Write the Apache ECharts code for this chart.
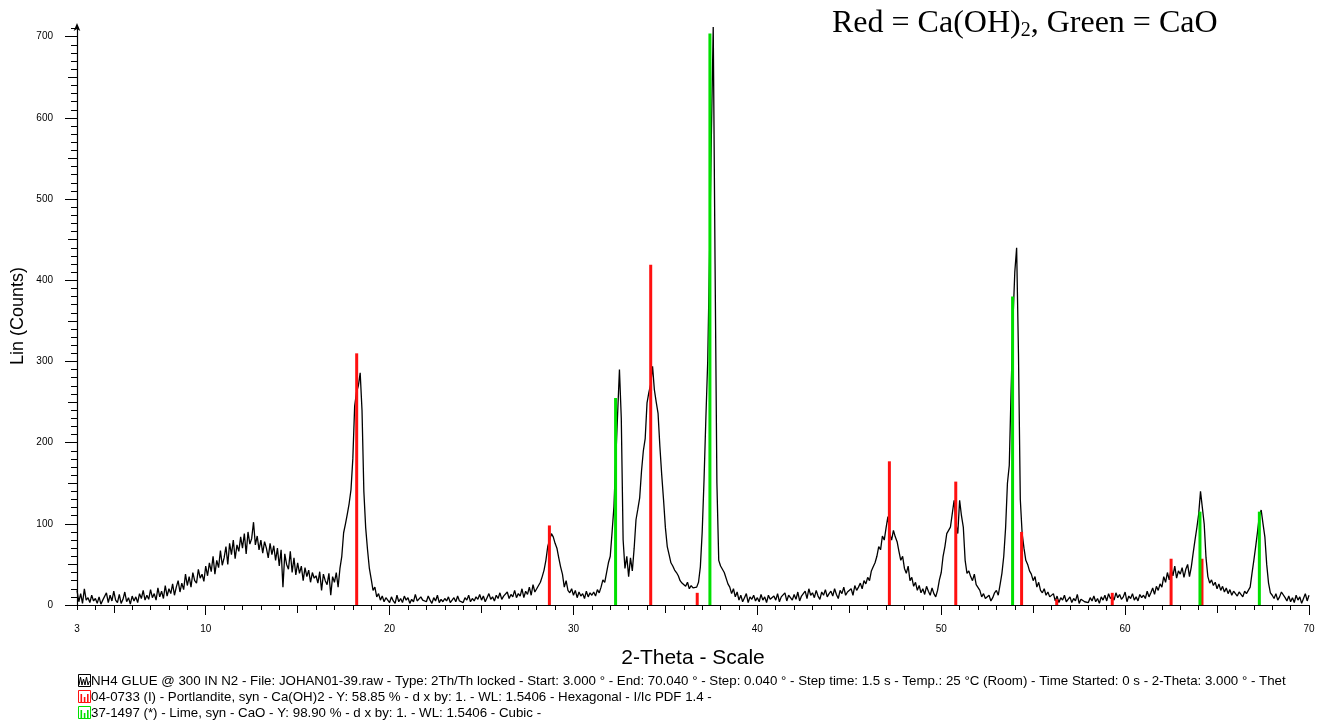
<!DOCTYPE html>
<html>
<head>
<meta charset="utf-8">
<title>XRD NH4 GLUE @ 300 IN N2</title>
<script src="https://cdn.jsdelivr.net/npm/echarts@6.0.0/dist/echarts.min.js"></script>
<style>
  html, body { margin: 0; padding: 0; background: #fff; }
  #chart { width: 1320px; height: 720px; }
</style>
</head>
<body>
<div id="chart"></div>
<script>
// scan: 2-theta from 3.0, one reading every 0.1 deg
var scanStart = 3.0;
var scanStep = 0.1;
var counts = [
  18, 4, 14, 2, 20, 6, 9, 3, 12, 5,          // 3
  8, 2, 10, 1, 6, 4, 15, 3, 12, 5,           // 4
  17, 6, 3, 13, 2, 7, 16, 4, 9, 1,           // 5
  11, 5, 10, 3, 14, 8, 18, 6, 12, 7,         // 6
  19, 9, 14, 6, 21, 10, 17, 8, 24, 11,       // 7
  20, 14, 26, 12, 22, 30, 16, 27, 19, 38,    // 8
  24, 35, 22, 40, 30, 27, 44, 33, 38, 29,    // 9
  48, 36, 52, 41, 60, 38, 55, 46, 67, 49,    // 10
  58, 72, 50, 76, 62, 80, 57, 74, 66, 84,    // 11
  70, 88, 63, 90, 75, 82, 102, 74, 85, 68,   // 12
  80, 64, 78, 70, 58, 76, 62, 73, 55, 70,    // 13
  48, 68, 22, 63, 50, 44, 66, 40, 58, 37,    // 14
  52, 39, 48, 30, 46, 35, 43, 28, 40, 33,    // 15
  36, 27, 41, 18, 38, 30, 25, 39, 12, 35,    // 16
  28, 40, 22, 45, 60, 89, 100, 112, 125, 142,  // 17
  180, 245, 262, 270, 286, 240, 140, 95, 68, 45, // 18
  32, 18, 22, 10, 14, 6, 11, 4, 9, 7,        // 19
  3, 10, 5, 2, 12, 4, 8, 3, 11, 6,           // 20
  9, 2, 7, 4, 13, 5, 3, 10, 6, 8,            // 21
  4, 11, 6, 2, 9, 5, 12, 3, 7, 4,            // 22
  8, 5, 10, 3, 6, 9, 4, 11, 5, 7,            // 23
  3, 9, 6, 12, 4, 8, 5, 10, 7, 13,           // 24
  6, 11, 4, 9, 14, 7, 10, 5, 12, 8,          // 25
  15, 7, 11, 9, 16, 8, 13, 10, 18, 9,        // 26
  14, 11, 20, 9, 17, 13, 22, 12, 25, 16,     // 27
  20, 24, 28, 35, 43, 55, 72, 80, 88, 84,    // 28
  76, 70, 58, 47, 38, 22, 30, 18, 15, 20,    // 29
  12, 18, 9, 16, 11, 14, 8, 17, 10, 15,      // 30
  12, 16, 11, 19, 15, 22, 31, 28, 40, 52,    // 31
  60, 90, 121, 180, 235, 290, 230, 80, 45, 60,   // 32
  35, 58, 42, 70, 105, 118, 132, 165, 190, 205,  // 33
  249, 262, 272, 294, 265, 250, 236, 195, 160, 129, // 34
  95, 72, 62, 52, 48, 43, 40, 36, 30, 27,    // 35
  25, 23, 28, 20, 24, 21, 19, 22, 28, 47,    // 36
  90, 154, 230, 300, 430, 580, 712, 420, 150, 55, // 37
  48, 50, 40, 38, 26, 22, 14, 20, 10, 16,    // 38
  6, 12, 4, 9, 14, 3, 10, 7, 12, 5,          // 39
  9, 4, 13, 6, 10, 3, 12, 7, 5, 11,          // 40
  6, 14, 4, 10, 8, 15, 5, 12, 9, 6,          // 41
  13, 7, 16, 5, 11, 9, 17, 8, 20, 12,        // 42
  15, 9, 18, 11, 7, 16, 12, 19, 10, 14,      // 43
  17, 11, 20, 13, 8, 18, 14, 22, 12, 16,     // 44
  15, 20, 12, 24, 18, 22, 27, 20, 30, 26,    // 45
  34, 30, 42, 47, 52, 60, 72, 68, 85, 80,    // 46
  95, 109, 88, 80, 92, 84, 78, 66, 55, 60,   // 47
  45, 39, 48, 30, 34, 23, 28, 18, 24, 15,    // 48
  20, 13, 23, 17, 12, 21, 14, 10, 18, 31,    // 49
  40, 60, 72, 88, 92, 96, 94, 129, 100, 88,  // 50
  129, 110, 96, 55, 39, 42, 35, 30, 38, 25,  // 51
  23, 18, 10, 14, 8, 6, 12, 5, 9, 15,        // 52
  18, 12, 25, 39, 60, 95, 150, 172, 265, 350,  // 53
  410, 440, 310, 130, 88, 70, 55, 50, 42, 38,  // 54
  30, 35, 22, 28, 18, 15, 20, 12, 16, 10,    // 55
  8, 14, 5, 11, 3, 9, 6, 12, 4, 7,           // 56
  10, 3, 8, 5, 13, 2, 7, 9, 4, 6,            // 57
  3, 9, 5, 11, 4, 8, 2, 10, 6, 12,           // 58
  5, 14, 8, 11, 6, 15, 9, 13, 7, 10,         // 59
  16, 4, 11, 8, 14, 6, 10, 5, 13, 9,         // 60
  12, 8, 17, 10, 15, 21, 13, 23, 18, 26,     // 61
  22, 35, 28, 40, 31, 45, 36, 48, 33, 42,    // 62
  38, 46, 34, 44, 50, 35, 47, 64, 80, 95,    // 63
  112, 140, 120, 100, 58, 35, 27, 31, 24, 28,  // 64
  20, 26, 18, 23, 16, 21, 14, 19, 12, 17,    // 65
  15, 11, 16, 13, 10, 17, 14, 12, 22, 39,    // 66
  55, 72, 90, 110, 117, 100, 84, 50, 27, 15, // 67
  12, 8, 14, 6, 10, 16, 18, 9, 5, 11,        // 68
  4, 9, 3, 12, 6, 10, 2, 8, 14, 5,           // 69
  12                                         // 70
];

// reference patterns (stick lines)
var portlanditePos = [18.21, 28.69, 34.2, 36.73, 47.18, 50.79, 54.37, 56.28, 59.3, 62.5, 64.18];
var portlanditeH   = [310, 98, 419, 15, 177, 152, 90, 7, 15, 57, 57];
var limePos = [32.29, 37.42, 53.88, 64.07, 67.3];
var limeH   = [255, 704, 380, 115, 115];

var xLabelValues = [3, 10, 20, 30, 40, 50, 60, 70];
var yLabelValues = [0, 100, 200, 300, 400, 500, 600, 700];

var legendLines = [
  'NH4 GLUE @ 300 IN N2 - File: JOHAN01-39.raw - Type: 2Th/Th locked - Start: 3.000 ° - End: 70.040 ° - Step: 0.040 ° - Step time: 1.5 s - Temp.: 25 °C (Room) - Time Started: 0 s - 2-Theta: 3.000 ° - Thet',
  '04-0733 (I) - Portlandite, syn - Ca(OH)2 - Y: 58.85 % - d x by: 1. - WL: 1.5406 - Hexagonal - I/Ic PDF 1.4 -',
  '37-1497 (*) - Lime, syn - CaO - Y: 98.90 % - d x by: 1. - WL: 1.5406 - Cubic -'
];

var scan = counts.map(function (c, i) {
  return [+(scanStart + i * scanStep).toFixed(2), c];
});
function sticks(pos, h) {
  return pos.map(function (p, i) { return [p, h[i]]; });
}

var xMid = [], xMajor = [], yMid = [], yMinor = [];
for (var v = 5; v < 70; v += 10) xMid.push(v);
for (var v = 10; v <= 70; v += 10) xMajor.push(v);
for (var v = 50; v < 700; v += 100) yMid.push(v);
for (var v = 0; v <= 710; v += 10) yMinor.push(v);

var font = 'Liberation Sans, Arial, sans-serif';
var YMAX = 712;

function stickItem(color) {
  return function (params, api) {
    var top = api.coord([api.value(0), api.value(1)]);
    var base = api.coord([api.value(0), 0]);
    return {
      type: 'rect',
      shape: { x: top[0] - 1.5, y: top[1], width: 3, height: base[1] - top[1] },
      style: { fill: color }
    };
  };
}

function xAx(ticks, len, extra) {
  var a = {
    type: 'value', min: 3, max: 70, position: 'bottom',
    axisLine: { show: false },
    axisTick: { show: true, customValues: ticks, length: len, lineStyle: { color: '#000', width: 1 } },
    axisLabel: { show: false },
    splitLine: { show: false }
  };
  return Object.assign(a, extra || {});
}
function yAx(ticks, len, extra) {
  var a = {
    type: 'value', min: 0, max: YMAX, position: 'left',
    axisLine: { show: false },
    axisTick: { show: true, customValues: ticks, length: len, lineStyle: { color: '#000', width: 1 } },
    axisLabel: { show: false },
    splitLine: { show: false }
  };
  return Object.assign(a, extra || {});
}

var chart = echarts.init(document.getElementById('chart'));
chart.setOption({
  animation: false,
  backgroundColor: '#fff',
  textStyle: { fontFamily: font },
  grid: { left: 77, right: 11, top: 27, bottom: 115, containLabel: false },
  xAxis: [
    {
      type: 'value', min: 3, max: 70, interval: 1, position: 'bottom',
      axisLine: { show: true, lineStyle: { color: '#000', width: 1.2 } },
      axisTick: { show: true, length: 5, lineStyle: { color: '#000', width: 1 } },
      axisLabel: { customValues: xLabelValues, color: '#000', fontSize: 10, margin: 19, fontFamily: font },
      splitLine: { show: false }
    },
    xAx(xMid, 8),
    xAx(xMajor, 10)
  ],
  yAxis: [
    yAx(yLabelValues, 12, {
      axisLine: { show: true, lineStyle: { color: '#000', width: 1.2 }, symbol: ['none', 'arrow'], symbolSize: [5, 8], symbolOffset: [0, 4] },
      axisLabel: { show: true, customValues: yLabelValues, color: '#000', fontSize: 10, margin: 24, fontFamily: font }
    }),
    yAx(yMid, 9),
    yAx(yMinor, 6)
  ],
  series: [
    {
      name: 'NH4 GLUE @ 300 IN N2', type: 'line', data: scan,
      xAxisIndex: 0, yAxisIndex: 0,
      showSymbol: false, symbol: 'none',
      lineStyle: { color: '#000', width: 1.3 },
      z: 2
    },
    {
      name: 'Portlandite', type: 'custom', data: sticks(portlanditePos, portlanditeH),
      renderItem: stickItem('#ff1010'), z: 3
    },
    {
      name: 'Lime', type: 'custom', data: sticks(limePos, limeH),
      renderItem: stickItem('#00e000'), z: 4
    }
  ],
  graphic: [
    {
      type: 'text', left: 832, top: 8,
      style: {
        text: '{a|Red = Ca(OH)}{s|2}{a|, Green = CaO}',
        rich: {
          a: { fontFamily: 'Liberation Serif, Times New Roman, serif', fontSize: 32, lineHeight: 34, fill: '#000' },
          s: { fontFamily: 'Liberation Serif, Times New Roman, serif', fontSize: 20, lineHeight: 15, verticalAlign: 'bottom', fill: '#000' }
        }
      }
    },
    {
      type: 'text', x: 18, y: 316, rotation: Math.PI / 2,
      style: { text: 'Lin (Counts)', fontSize: 18, fontFamily: font, fill: '#000', align: 'center', verticalAlign: 'middle' }
    },
    {
      type: 'text', x: 693, y: 658,
      style: { text: '2-Theta - Scale', fontSize: 21, fontFamily: font, fill: '#000', align: 'center', verticalAlign: 'middle' }
    },
    // legend glyphs
    { type: 'rect', shape: { x: 78.5, y: 674.5, width: 12, height: 12 }, style: { fill: 'none', stroke: '#000', lineWidth: 1 } },
    { type: 'polyline', shape: { points: [[79, 685], [80.5, 677], [82, 685], [83.5, 679], [85, 685], [86.5, 677], [88, 685], [89.5, 681]] }, style: { fill: 'none', stroke: '#000', lineWidth: 1 } },
    { type: 'rect', shape: { x: 78.5, y: 690.5, width: 12, height: 12 }, style: { fill: 'none', stroke: '#ff1010', lineWidth: 1 } },
    { type: 'rect', shape: { x: 80.5, y: 694, width: 1.6, height: 8 }, style: { fill: '#ff1010' } },
    { type: 'rect', shape: { x: 83.8, y: 697, width: 1.6, height: 5 }, style: { fill: '#ff1010' } },
    { type: 'rect', shape: { x: 87, y: 694, width: 1.6, height: 8 }, style: { fill: '#ff1010' } },
    { type: 'rect', shape: { x: 78.5, y: 706.5, width: 12, height: 12 }, style: { fill: 'none', stroke: '#00e000', lineWidth: 1 } },
    { type: 'rect', shape: { x: 80.5, y: 710, width: 1.6, height: 8 }, style: { fill: '#00e000' } },
    { type: 'rect', shape: { x: 83.8, y: 713, width: 1.6, height: 5 }, style: { fill: '#00e000' } },
    { type: 'rect', shape: { x: 87, y: 710, width: 1.6, height: 8 }, style: { fill: '#00e000' } },
    { type: 'text', x: 91, y: 681, style: { text: legendLines[0], fontSize: 13.3, fontFamily: font, fill: '#000', verticalAlign: 'middle' } },
    { type: 'text', x: 91, y: 697, style: { text: legendLines[1], fontSize: 13.3, fontFamily: font, fill: '#000', verticalAlign: 'middle' } },
    { type: 'text', x: 91, y: 713, style: { text: legendLines[2], fontSize: 13.3, fontFamily: font, fill: '#000', verticalAlign: 'middle' } }
  ]
});
</script>
</body>
</html>
